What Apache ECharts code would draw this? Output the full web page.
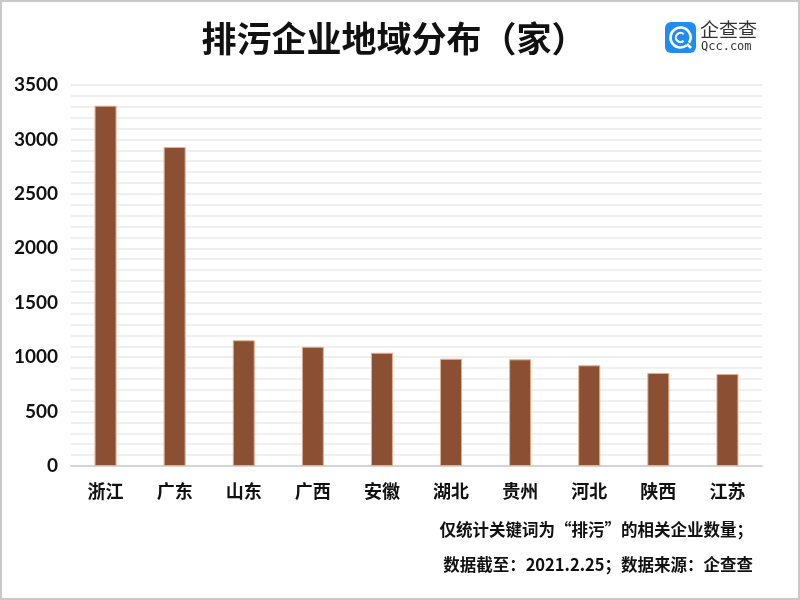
<!DOCTYPE html>
<html>
<head>
<meta charset="utf-8">
<script src="https://cdn.jsdelivr.net/npm/echarts@6/dist/echarts.min.js"></script>
<style>
    html, body { margin: 0; padding: 0; background: #fff; }
    #main { width: 800px; height: 600px; }
</style>
</head>
<body>
<div id="main"></div>
<script>
// 地区
var provinces = ['浙江', '广东', '山东', '广西', '安徽', '湖北', '贵州', '河北', '陕西', '江苏'];
// 企业数量（家）
var counts = [3310, 2930, 1155, 1095, 1040, 985, 980, 925, 855, 845];
var titleText = '排污企业地域分布（家）';
var noteLines = ['仅统计关键词为“排污”的相关企业数量；', '数据截至：2021.2.25；数据来源：企查查'];

var fontCN = '"Noto Sans CJK SC", "Noto Sans", sans-serif';

var chart = echarts.init(document.getElementById('main'));
var option = {
    backgroundColor: '#fff',
    animation: false,
    title: {
        text: titleText,
        left: 389,
        top: 16,
        textAlign: 'center',
        textStyle: { fontFamily: fontCN, fontSize: 35, fontWeight: 'bold', color: '#111' }
    },
    grid: { left: 71, right: 38, top: 85, bottom: 134 },
    xAxis: {
        type: 'category',
        data: provinces,
        axisTick: { show: false },
        axisLine: { lineStyle: { color: '#d4d4d4', width: 2 } },
        axisLabel: { margin: 16, fontFamily: fontCN, fontSize: 18, fontWeight: 'bold', color: '#111' }
    },
    yAxis: {
        type: 'value',
        min: 0,
        max: 3500,
        interval: 500,
        axisLine: { show: false },
        axisTick: { show: false },
        minorTick: { show: false, splitNumber: 5 },
        axisLabel: {
            margin: 13, fontFamily: 'Lato, "Open Sans", sans-serif', fontSize: 19, fontWeight: 'bold', color: '#111',
            formatter: function (v) { return String(v); }
        },
        splitLine: { lineStyle: { color: '#e8e8e8', width: 1.5 } },
        minorSplitLine: { show: true, lineStyle: { color: '#ececec', width: 1.5 } }
    },
    series: [{
        type: 'bar',
        data: counts,
        barWidth: 22,
        itemStyle: { color: '#8b4f33', borderColor: '#e2b091', borderWidth: 1 }
    }],
    graphic: [
        // 外边框
        { type: 'rect', shape: { x: 1, y: 1, width: 798, height: 598 }, style: { fill: 'none', stroke: '#c8c8c8', lineWidth: 2 } },
        // logo
        { type: 'rect', shape: { x: 665, y: 22, width: 31, height: 31, r: 6 }, style: { fill: '#1e8cf0' } },
        { type: 'arc', shape: { cx: 680.5, cy: 37.5, r: 10, startAngle: 0.9, endAngle: 0.55 + Math.PI * 2 }, style: { fill: 'none', stroke: '#fff', lineWidth: 2.6 } },
        { type: 'arc', shape: { cx: 680.5, cy: 37.5, r: 4.6, startAngle: 0.8, endAngle: Math.PI * 2 - 0.8 }, style: { fill: 'none', stroke: '#fff', lineWidth: 2.2 } },
        { type: 'line', shape: { x1: 687, y1: 44, x2: 691, y2: 48 }, style: { stroke: '#fff', lineWidth: 2.6 } },
        { type: 'text', left: 700, top: 20, style: { text: '企查查', font: '19px ' + fontCN, fill: '#333' } },
        { type: 'text', left: 701, top: 41, style: { text: 'Qcc.com', font: '12px "DejaVu Sans Mono", monospace', fill: '#333' } },
        // 说明文字
        { type: 'text', right: 47, top: 521, style: { text: noteLines[0], font: 'bold 16.5px ' + fontCN, fill: '#111' } },
        { type: 'text', right: 47, top: 556, style: { text: noteLines[1], font: 'bold 16.5px ' + fontCN, fill: '#111' } }
    ]
};
chart.setOption(option);
</script>
</body>
</html>
